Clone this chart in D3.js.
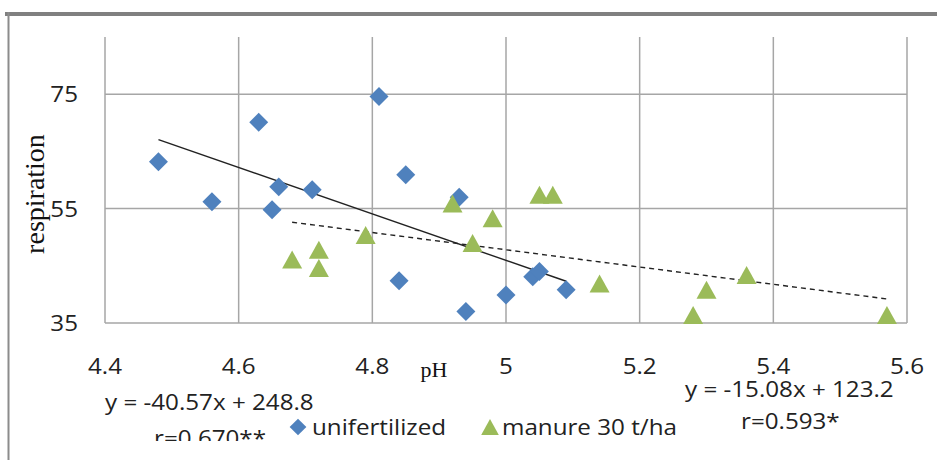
<!DOCTYPE html>
<html>
<head>
<meta charset="utf-8">
<script src="https://cdn.jsdelivr.net/npm/d3@7"></script>
<style>
  html, body { margin: 0; padding: 0; background: #fff; }
  svg { display: block; }
  .lab { font-family: "Open Sans", Lato, sans-serif; fill: #222; font-size: 22px; }
</style>
</head>
<body>
<svg id="chart" width="937" height="460"></svg>
<script>
// ---- data ----
const phUnfert   = [4.48, 4.56, 4.63, 4.65, 4.66, 4.71, 4.81, 4.84, 4.85, 4.93, 4.94, 5.00, 5.04, 5.05, 5.09];
const respUnfert = [63.2, 56.2, 70.1, 54.8, 58.8, 58.3, 74.6, 42.4, 60.9, 57.0, 37.0, 39.9, 43.1, 44.0, 40.8];
const phManure   = [4.68, 4.72, 4.72, 4.79, 4.92, 4.95, 4.98, 5.05, 5.07, 5.14, 5.28, 5.30, 5.36, 5.57];
const respManure = [46.1, 47.8, 44.6, 50.4, 55.9, 49.0, 53.3, 57.4, 57.4, 41.9, 36.4, 40.8, 43.4, 36.4];
const seriesNames = ["unifertilized", "manure 30 t/ha"];
const trendSlope = [-40.57, -15.08];
const trendIntercept = [248.8, 123.2];
const trendLabels = ["y = -40.57x + 248.8", "y = -15.08x + 123.2"];
const rLabels = ["r=0.670**", "r=0.593*"];
const xTicks = [4.4, 4.6, 4.8, 5.0, 5.2, 5.4, 5.6];
const yTicks = [35, 55, 75];
const xDomain = [4.4, 5.6];
const yDomain = [35, 85];

const svg = d3.select("#chart");
const W = 937, H = 460;
const SX = 1.1; // horizontal stretch of the sans labels

function label(g, tx, ty, str, anchor) {
  return g.append("text").attr("class", "lab")
    .attr("transform", `translate(${tx},${ty}) scale(${SX},1)`)
    .attr("text-anchor", anchor || "start").text(str);
}

// frame
svg.append("line").attr("x1", 5).attr("x2", W).attr("y1", 14).attr("y2", 14)
  .attr("stroke", "#808080").attr("stroke-width", 4);
svg.append("line").attr("x1", 8.5).attr("x2", 8.5).attr("y1", 12).attr("y2", H)
  .attr("stroke", "#8c8c8c").attr("stroke-width", 2);

const plot = {left: 105, right: 907, top: 37, bottom: 323};
const x = d3.scaleLinear().domain(xDomain).range([plot.left, plot.right]);
const y = d3.scaleLinear().domain(yDomain).range([plot.bottom, plot.top]);

const grid = "#a6a6a6";
svg.append("g").selectAll("line").data(xTicks).join("line")
  .attr("x1", d => x(d)).attr("x2", d => x(d))
  .attr("y1", plot.top).attr("y2", plot.bottom)
  .attr("stroke", grid).attr("stroke-width", 1.5);
svg.append("g").selectAll("line").data(yTicks).join("line")
  .attr("x1", plot.left).attr("x2", plot.right)
  .attr("y1", d => y(d)).attr("y2", d => y(d))
  .attr("stroke", grid).attr("stroke-width", 1.5);

// tick labels
svg.append("g").selectAll("text").data(xTicks).join("text")
  .attr("class", "lab")
  .attr("transform", d => `translate(${x(d)},374) scale(${SX},1)`)
  .attr("text-anchor", "middle")
  .text(d => d3.format("")(d));
svg.append("g").selectAll("text").data(yTicks).join("text")
  .attr("class", "lab")
  .attr("transform", d => `translate(78,${y(d) + 8}) scale(${SX},1)`)
  .attr("text-anchor", "end")
  .text(d => d);

// axis titles
svg.append("text").attr("x", 434).attr("y", 377).attr("text-anchor", "middle")
  .attr("font-family", "'Liberation Serif', 'DejaVu Serif', serif").attr("font-size", 22)
  .attr("fill", "#111").text("pH");
svg.append("text").attr("transform", "translate(44,194) rotate(-90)").attr("text-anchor", "middle")
  .attr("font-family", "'Liberation Serif', 'DejaVu Serif', serif").attr("font-size", 28)
  .attr("fill", "#111").text("respiration");

// trend lines
const series = [
  {xs: phUnfert, ys: respUnfert},
  {xs: phManure, ys: respManure}
];
series.forEach((s, i) => {
  const x0 = d3.min(s.xs), x1 = d3.max(s.xs);
  svg.append("line")
    .attr("x1", x(x0)).attr("y1", y(trendSlope[i] * x0 + trendIntercept[i]))
    .attr("x2", x(x1)).attr("y2", y(trendSlope[i] * x1 + trendIntercept[i]))
    .attr("stroke", "#222").attr("stroke-width", 1.4)
    .attr("stroke-dasharray", i === 1 ? "5,4" : null);
});

// symbols
const diamond = { draw(ctx, size) { const r = Math.sqrt(size / 2); ctx.moveTo(0, -r); ctx.lineTo(r, 0); ctx.lineTo(0, r); ctx.lineTo(-r, 0); ctx.closePath(); } };
const triangle = { draw(ctx, size) { const w = Math.sqrt(size * 2 / 0.9), h = w * 0.9; ctx.moveTo(0, -h / 2); ctx.lineTo(w / 2, h / 2); ctx.lineTo(-w / 2, h / 2); ctx.closePath(); } };
const blue = "#4f81bd", green = "#9bbb59";

const unf = phUnfert.map((p, i) => [p, respUnfert[i]]);
const man = phManure.map((p, i) => [p, respManure[i]]);

svg.append("g").selectAll("path").data(unf).join("path")
  .attr("d", d3.symbol(diamond, 180))
  .attr("transform", d => `translate(${x(d[0])},${y(d[1])})`)
  .attr("fill", blue);
svg.append("g").selectAll("path").data(man).join("path")
  .attr("d", d3.symbol(triangle, 180))
  .attr("transform", d => `translate(${x(d[0])},${y(d[1])})`)
  .attr("fill", green);

// trend equations
const ann = svg.append("g");
label(ann, 105, 410, trendLabels[0]);
label(ann, 685, 397, trendLabels[1]);
svg.append("defs").append("clipPath").attr("id", "clipB").append("rect")
  .attr("x", 0).attr("y", -40).attr("width", 200).attr("height", 35);
label(ann, 154, 446, rLabels[0]).attr("clip-path", "url(#clipB)");
label(ann, 741, 429, rLabels[1]);

// legend
const leg = svg.append("g");
leg.append("path").attr("d", d3.symbol(diamond, 140)).attr("transform", "translate(298,427)").attr("fill", blue);
label(leg, 312, 435, seriesNames[0]);
leg.append("path").attr("d", d3.symbol(triangle, 140)).attr("transform", "translate(490,427)").attr("fill", green);
label(leg, 502, 435, seriesNames[1]);
</script>
</body>
</html>
